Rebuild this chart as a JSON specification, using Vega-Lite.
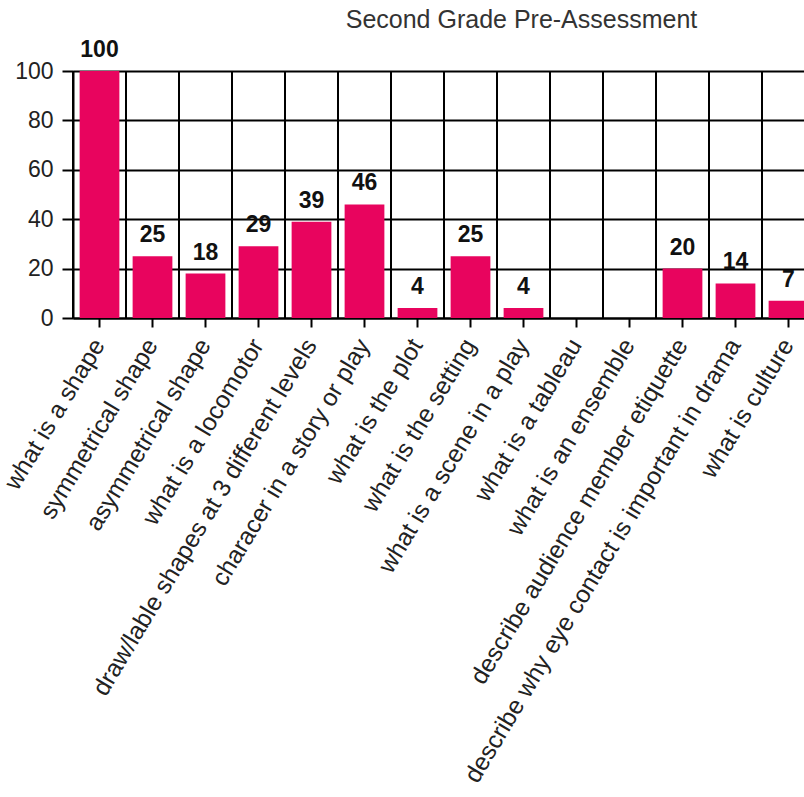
{
  "$schema": "https://vega.github.io/schema/vega-lite/v6.json",
  "autosize": "none",
  "padding": {"left": 73, "top": 71, "right": 0, "bottom": 479},
  "width": 731,
  "height": 247,
  "background": "white",
  "title": {
    "text": "Second Grade Pre-Assessment",
    "frame": "group",
    "anchor": "middle",
    "dx": 83,
    "offset": 0,
    "dy": 14,
    "baseline": "alphabetic",
    "font": "Liberation Sans",
    "fontSize": 25,
    "fontWeight": "normal",
    "color": "#333333"
  },
  "config": {"view": {"stroke": null}},
  "data": {
    "values": [
      {"q": "what is a shape", "v": 100},
      {"q": "symmetrical shape", "v": 25},
      {"q": "asymmetrical shape", "v": 18},
      {"q": "what is a locomotor", "v": 29},
      {"q": "draw/lable shapes at 3 different levels", "v": 39},
      {"q": "characer in a story or play", "v": 46},
      {"q": "what is the plot", "v": 4},
      {"q": "what is the setting", "v": 25},
      {"q": "what is a scene in a play", "v": 4},
      {"q": "what is a tableau", "v": 0},
      {"q": "what is an ensemble", "v": 0},
      {"q": "describe audience member etiquette", "v": 20},
      {"q": "describe why eye contact is important in drama", "v": 14},
      {"q": "what is culture", "v": 7}
    ]
  },
  "encoding": {
    "x": {
      "field": "q",
      "type": "nominal",
      "sort": null,
      "title": null,
      "scale": {"range": [0, 742], "paddingInner": 0, "paddingOuter": 0},
      "axis": {
        "labelAngle": -59,
        "labelAlign": "right",
        "labelBaseline": "middle",
        "labelFont": "Liberation Sans",
        "labelFontSize": 24.6,
        "labelColor": "#222222",
        "labelLimit": 0,
        "labelPadding": 14,
        "tickColor": "black",
        "tickWidth": 2,
        "tickSize": 9,
        "domainColor": "black",
        "domainWidth": 2,
        "grid": false
      }
    }
  },
  "layer": [
    {
      "mark": {"type": "rule", "color": "black", "strokeWidth": 2},
      "encoding": {
        "x": {"field": "q", "type": "nominal", "sort": null, "bandPosition": 0}
      }
    },
    {
      "mark": {"type": "bar", "color": "#E8045E", "width": {"band": 0.75}},
      "encoding": {
        "y": {
          "field": "v",
          "type": "quantitative",
          "title": null,
          "scale": {"domain": [0, 100], "nice": false},
          "axis": {
            "values": [0, 10, 20, 30, 40, 50, 60, 70, 80, 90, 100],
            "labelExpr": "datum.value % 20 === 0 ? datum.label : ''",
            "labelFont": "Liberation Sans",
            "labelFontSize": 23,
            "labelColor": "#222222",
            "labelPadding": 9,
            "tickSize": 11,
            "tickColor": {"condition": {"test": "datum.value % 20 === 0", "value": "black"}, "value": "#bbbbbb"},
            "tickWidth": 2,
            "domainColor": "black",
            "domainWidth": 2,
            "grid": true,
            "gridColor": {"condition": {"test": "datum.value % 20 === 0", "value": "black"}, "value": "#bbbbbb"},
            "gridWidth": {"condition": {"test": "datum.value % 20 === 0", "value": 2}, "value": 1.5},
            "gridOpacity": 1
          }
        }
      }
    },
    {
      "transform": [{"filter": "datum.v > 0"}],
      "mark": {
        "type": "text",
        "baseline": "alphabetic",
        "dy": -14,
        "font": "Liberation Sans",
        "fontSize": 23,
        "fontWeight": "bold",
        "color": "#111111"
      },
      "encoding": {
        "y": {"field": "v", "type": "quantitative"},
        "text": {"field": "v", "type": "quantitative"}
      }
    }
  ]
}
